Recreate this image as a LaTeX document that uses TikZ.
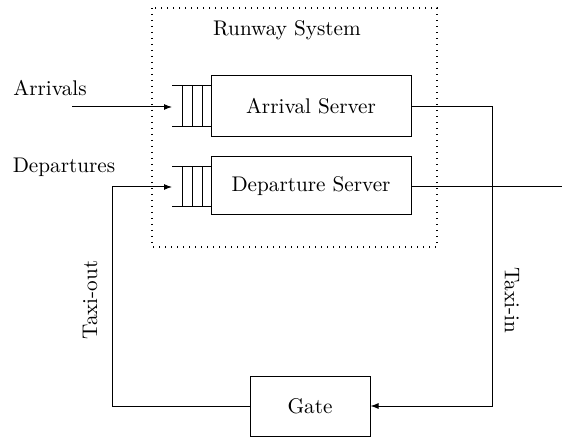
\documentclass[tikz,border=0pt]{standalone}
\usetikzlibrary{arrows.meta}
\begin{document}
\begin{tikzpicture}[x=0.5pt,y=-0.5pt,line width=0.5pt,
  font=\fontsize{10.6}{12}\selectfont,
  server/.style={draw,minimum width=100pt,inner sep=0pt},
  lbl/.style={inner sep=0pt},
  arr/.style={-{Latex[length=4pt,width=3pt]}},
  queue/.style={draw}]
\useasboundingbox (0,0) rectangle (562,438);
% dotted system box
\draw[dash pattern=on 0.7pt off 2.3pt,line width=0.7pt] (152,8) rectangle (437,247);
\node[lbl] (title) at (287,30) {Runway System};
% servers
\node[server,minimum height=30.5pt] (as) at (311,106.5) {Arrival Server};
\node[server,minimum height=29pt] (ds) at (311,186) {Departure Server};
\node[draw,minimum width=60pt,minimum height=30pt,inner sep=0pt] (gate) at (310,406) {Gate};
% queues
\foreach \yt/\yb/\n in {86/127/qa,167/207/qd}{
  \draw (172,\yt) -- (211,\yt);
  \draw (172,\yb) -- (211,\yb);
  \foreach \xx in {182,192,202}{\draw (\xx,\yt) -- (\xx,\yb);}
}
\coordinate (qa) at (172,107);
\coordinate (qd) at (172,187);
% labels
\node[lbl] (arrl) at (50,88) {Arrivals};
\node[lbl] (depl) at (64,167) {Departures};
\node[lbl,rotate=90] (tout) at (90,300) {Taxi-out};
\node[lbl,rotate=-90] (tin) at (512,300) {Taxi-in};
% connectors
\coordinate (ain) at (72,107);
\draw[arr] (ain) -- (qa);
\coordinate (c1) at (492,107);
\coordinate (c2) at (492,406);
\draw[arr] (as.east |- c1) -- (c1) -- (c2) -- (gate.east);
\coordinate (dout) at (562,187);
\draw (ds.east |- dout) -- (dout);
\coordinate (c3) at (112,406);
\coordinate (c4) at (112,187);
\draw[arr] (gate.west) -- (c3) -- (c4) -- (qd);
\end{tikzpicture}
\end{document}
